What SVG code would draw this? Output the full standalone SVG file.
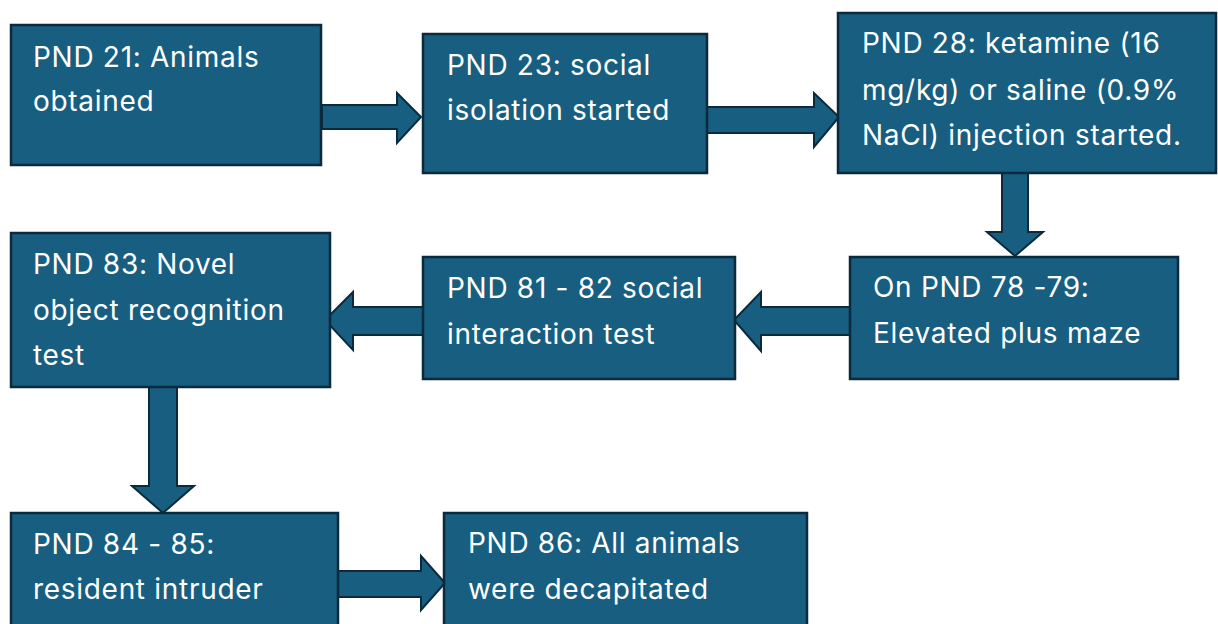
<svg xmlns="http://www.w3.org/2000/svg" width="1218" height="624" viewBox="0 0 1218 624">
<style>
.box{fill:#175e80;stroke:#0b2b3d;stroke-width:2.5}
.arr{fill:#175e80;stroke:#0b2b3d;stroke-width:2;stroke-linejoin:miter}
text{font-family:Inter,"Open Sans","Liberation Sans",sans-serif;font-size:28px;letter-spacing:0.7px;fill:#ffffff}
</style>
<rect width="1218" height="624" fill="#ffffff"/>
<g id="connectors">
<polygon class="arr" points="322,105 397,105 397,93 421,117 397,143 397,129 322,129"/>
<polygon class="arr" points="707,107 814,107 814,93 839,117 814,147 814,133 707,133"/>
<polygon class="arr" points="1002,173 1028,173 1028,232 1043,232 1015,256 987,232 1002,232"/>
<polygon class="arr" points="850,307 761,307 761,292 734,320 761,351 761,335 850,335"/>
<polygon class="arr" points="423,307 353,307 353,292 325,320 353,350 353,335 423,335"/>
<polygon class="arr" points="149,387 177,387 177,486 194,486 163,513 132,486 149,486"/>
<polygon class="arr" points="338,571 421,571 421,556 445,583 421,610 421,597 338,597"/>
</g>
<g id="n1"><rect class="box" x="11" y="25" width="310" height="140"/><text x="33" y="67">PND 21: Animals</text><text x="33" y="111">obtained</text></g>
<g id="n2"><rect class="box" x="423" y="34" width="284" height="139"/><text x="447" y="75">PND 23: social</text><text x="447" y="120">isolation started</text></g>
<g id="n3"><rect class="box" x="838" y="13" width="378" height="160"/><text x="862" y="53">PND 28: ketamine (16</text><text x="862" y="100">mg/kg) or saline (0.9%</text><text x="862" y="145">NaCl) injection started.</text></g>
<g id="n4"><rect class="box" x="850" y="257" width="328" height="122"/><text x="873" y="297">On PND 78 -79:</text><text x="873" y="343">Elevated plus maze</text></g>
<g id="n5"><rect class="box" x="423" y="257" width="312" height="122"/><text x="447" y="298">PND 81 - 82 social</text><text x="447" y="344">interaction test</text></g>
<g id="n6"><rect class="box" x="11" y="233" width="319" height="154"/><text x="33" y="274">PND 83: Novel</text><text x="33" y="320">object recognition</text><text x="33" y="365">test</text></g>
<g id="n7"><rect class="box" x="11" y="513" width="327" height="130"/><text x="33" y="554">PND 84 - 85:</text><text x="33" y="599">resident intruder</text></g>
<g id="n8"><rect class="box" x="444" y="513" width="363" height="130"/><text x="468" y="553">PND 86: All animals</text><text x="468" y="599">were decapitated</text></g>
</svg>
